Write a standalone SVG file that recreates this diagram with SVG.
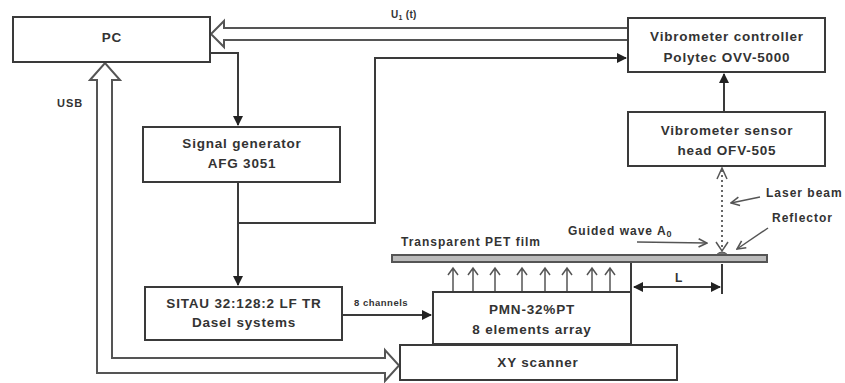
<svg xmlns="http://www.w3.org/2000/svg" width="845" height="383" viewBox="0 0 845 383">
<style>
.box{fill:#fff;stroke:#3a3a3a;stroke-width:2}
.t{font-family:"Liberation Sans",Arial,sans-serif;font-weight:bold;font-size:13.5px;letter-spacing:0.8px;fill:#333;text-anchor:middle}
.s{font-family:"Liberation Sans",Arial,sans-serif;font-weight:bold;font-size:12px;letter-spacing:1px;fill:#333}
.ln{fill:none;stroke:#3a3a3a;stroke-width:2}
.thin{fill:none;stroke:#555;stroke-width:1.5}
.hollow{fill:#fff;stroke:#555;stroke-width:2;stroke-linejoin:miter}
</style>
<defs>
<marker id="arr" viewBox="0 0 10 10" refX="9" refY="5" markerWidth="5" markerHeight="5" orient="auto" markerUnits="strokeWidth">
<path d="M0,0 L10,5 L0,10 z" fill="#222"/>
</marker>
<marker id="open" viewBox="0 0 10 10" refX="9" refY="5" markerWidth="7" markerHeight="7" orient="auto" markerUnits="strokeWidth">
<path d="M1,1 L9,5 L1,9" fill="none" stroke="#555" stroke-width="1.5"/>
</marker>
</defs>

<g id="connectors">
<path class="hollow" d="M628,28 H224 V21 L211,34 L224,47 V40 H628"/>
<path class="hollow" d="M90,80 L105,63 L120,80 H112 V358 H385 V350 L399,365.5 L385,381 V373 H97 V80 Z"/>
<path class="ln" d="M210,53 H238 V125" marker-end="url(#arr)"/>
<path class="ln" d="M238,182 V285" marker-end="url(#arr)"/>
<path class="ln" d="M238,223 H375 V58 H626" marker-end="url(#arr)"/>
<path class="ln" d="M724,112 V74" marker-end="url(#arr)"/>
<path class="ln" d="M342,315 H431" marker-end="url(#arr)"/>
<path class="ln" d="M722,264 V294"/>
<path class="ln" d="M631,262 V292"/>
<path class="ln" d="M680,287 H634" marker-end="url(#arr)"/>
<path class="ln" d="M680,287 H720" marker-end="url(#arr)"/>
<path d="M722,170 V250" fill="none" stroke="#666" stroke-width="2" stroke-dasharray="2,3"/>
<polyline class="thin" points="717,179 722,168 727,179"/>
<polyline class="thin" points="716,242 722,251 728,242"/>
<path d="M716,255 Q722,249 728,255" fill="#777" stroke="#555" stroke-width="1"/>
<path class="thin" d="M760,197 L731,203" marker-end="url(#open)"/>
<path class="thin" d="M768,228 L737,249" marker-end="url(#open)"/>
<path class="thin" d="M637,242 L707,243" marker-end="url(#open)"/>
<g class="thin">
<path d="M453,291 V269 M448,275 L453,268 L458,275"/>
<path d="M473,291 V269 M468,275 L473,268 L478,275"/>
<path d="M495,291 V269 M490,275 L495,268 L500,275"/>
<path d="M522,291 V269 M517,275 L522,268 L527,275"/>
<path d="M545,291 V269 M540,275 L545,268 L550,275"/>
<path d="M567,291 V269 M562,275 L567,268 L572,275"/>
<path d="M592,291 V269 M587,275 L592,268 L597,275"/>
<path d="M610,291 V269 M605,275 L610,268 L615,275"/>
</g>
</g>

<g id="film">
<rect x="392" y="255" width="375" height="7" fill="#bbb" stroke="#555" stroke-width="2"/>
<text class="s" x="401" y="246">Transparent PET film</text>
</g>

<g id="pc">
<rect class="box" x="13" y="17" width="197" height="45"/>
<text class="t" x="112" y="42">PC</text>
</g>

<g id="siggen">
<rect class="box" x="143" y="127" width="197" height="55"/>
<text class="t" x="242" y="148">Signal generator</text>
<text class="t" x="242" y="168">AFG 3051</text>
</g>

<g id="sitau">
<rect class="box" x="145" y="287" width="197" height="53"/>
<text class="t" x="244" y="308">SITAU 32:128:2 LF TR</text>
<text class="t" x="244" y="327">Dasel systems</text>
</g>

<g id="controller">
<rect class="box" x="628" y="18" width="197" height="54"/>
<text class="t" x="727" y="41">Vibrometer controller</text>
<text class="t" x="727" y="62">Polytec OVV-5000</text>
</g>

<g id="sensor">
<rect class="box" x="628" y="112" width="197" height="54"/>
<text class="t" x="727" y="135">Vibrometer sensor</text>
<text class="t" x="727" y="155">head OFV-505</text>
</g>

<g id="pmn">
<rect class="box" x="433" y="292" width="198" height="52"/>
<text class="t" x="532" y="314">PMN-32%PT</text>
<text class="t" x="532" y="334">8 elements array</text>
</g>

<g id="xy">
<rect class="box" x="400" y="345" width="277" height="35"/>
<text class="t" x="538" y="367">XY scanner</text>
</g>

<g id="labels">
<text class="s" x="391" y="18" style="font-size:10px;letter-spacing:0.3px">U<tspan font-size="7" dy="2">1</tspan><tspan dy="-2"> (t)</tspan></text>
<text class="s" x="57" y="107" style="font-size:11px">USB</text>
<text class="s" x="354" y="306" style="font-size:9.5px;letter-spacing:0.5px">8 channels</text>
<text class="s" x="675" y="282">L</text>
<text class="s" x="568" y="235">Guided wave A<tspan font-size="9" dy="2">0</tspan></text>
<text class="s" x="766" y="197">Laser beam</text>
<text class="s" x="772" y="222">Reflector</text>
</g>
</svg>
